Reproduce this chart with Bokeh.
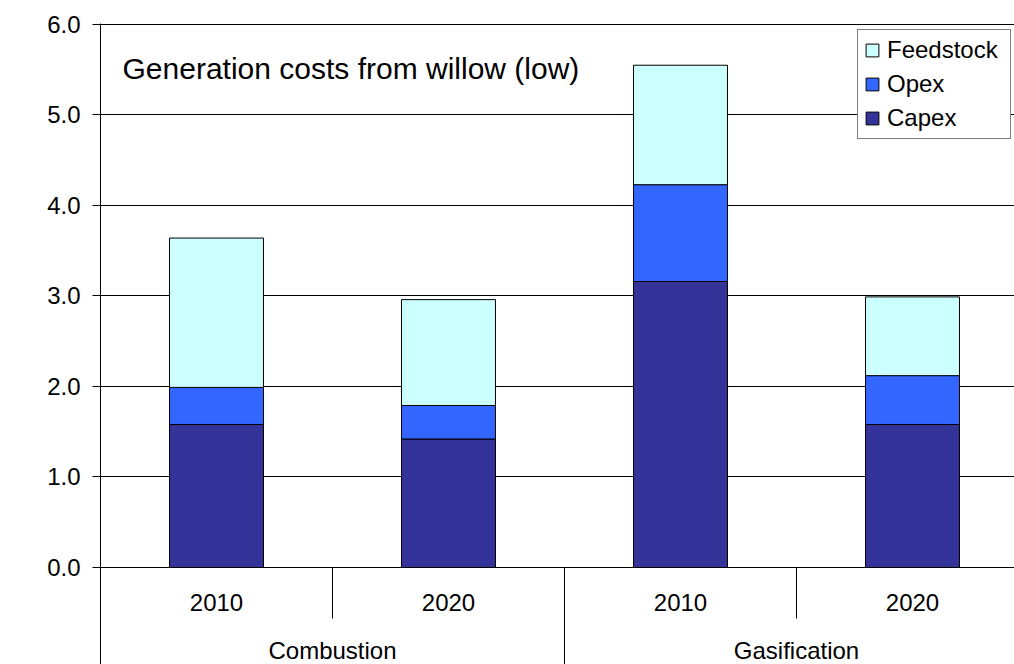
import numpy as np
from math import pi
from bokeh.plotting import figure
from bokeh.models import (Range1d, FixedTicker, Legend, LegendItem, Label,
                          LabelSet, ColumnDataSource, NumeralTickFormatter)
from bokeh.core.properties import value
from bokeh.embed import file_html
from bokeh.resources import INLINE

# ---- data ----
groups = ["Combustion", "Combustion", "Gasification", "Gasification"]
years = ["2010", "2020", "2010", "2020"]
capex = [1.58, 1.42, 3.16, 1.58]
opex = [0.41, 0.37, 1.07, 0.54]
feedstock = [1.65, 1.17, 1.32, 0.87]
series = ["Capex", "Opex", "Feedstock"]
colors = ["#333399", "#3366FF", "#CCFFFF"]
y_ticks = [0.0, 1.0, 2.0, 3.0, 4.0, 5.0, 6.0]
title_text = "Generation costs from willow (low)"
y_label = "p/kWh"

FONT = "Liberation Sans"

n = len(years)
x = np.arange(n) + 0.5
Y0 = -1.072

p = figure(width=1014, height=664, output_backend="svg", toolbar_location=None,
           x_range=Range1d(0, 914 / 232), y_range=Range1d(Y0, 6.011),
           min_border_left=100, min_border_right=0, min_border_top=23,
           min_border_bottom=0)
p.outline_line_color = None
p.background_fill_color = "white"
p.border_fill_color = "white"

p.xaxis.visible = False
p.xgrid.visible = False

p.yaxis.ticker = FixedTicker(ticks=y_ticks)
p.yaxis.formatter = NumeralTickFormatter(format="0.0")
p.yaxis.axis_line_color = "black"
p.yaxis.major_tick_line_color = "black"
p.yaxis.major_tick_out = 8
p.yaxis.major_tick_in = 0
p.yaxis.minor_tick_line_color = None
p.yaxis.major_label_text_font = FONT
p.yaxis.major_label_text_font_size = "24px"
p.yaxis.major_label_text_color = "black"
p.yaxis.major_label_standoff = 12
p.ygrid.ticker = FixedTicker(ticks=y_ticks)
p.ygrid.grid_line_color = "black"
p.ygrid.grid_line_width = 1

src = ColumnDataSource(dict(x=x, Capex=capex, Opex=opex, Feedstock=feedstock))
rs = p.vbar_stack(series, x="x", width=0.405, source=src,
                  fill_color=colors, line_color="black", line_width=1)

# separators of the two-level category axis
sx, sy1 = [], []
for i in range(1, n):
    sx.append(float(i))
    sy1.append(Y0 if groups[i] != groups[i - 1] else -0.564)
p.segment(x0=sx, y0=[0.0] * len(sx), x1=sx, y1=sy1, line_color="black", line_width=1)

# year labels
ysrc = ColumnDataSource(dict(x=x, y=[-0.387] * n, text=years))
p.add_layout(LabelSet(x="x", y="y", text="text", source=ysrc,
                      text_align="center", text_baseline="middle",
                      text_font=value(FONT), text_font_size=value("24px"),
                      text_color="black"))

# group labels
ug = list(dict.fromkeys(groups))
gx = [float(np.mean([x[i] for i in range(n) if groups[i] == g])) for g in ug]
gsrc = ColumnDataSource(dict(x=gx, y=[-0.915] * len(ug), text=ug))
p.add_layout(LabelSet(x="x", y="y", text="text", source=gsrc,
                      text_align="center", text_baseline="middle",
                      text_font=value(FONT), text_font_size=value("24px"),
                      text_color="black"))

# title inside plot
p.add_layout(Label(x=0.095, y=5.515, text=title_text, text_font=FONT,
                   text_font_size="30px", text_baseline="middle",
                   text_color="black"))

# y axis label
p.add_layout(Label(x=-0.328, y=2.995, text=y_label, angle=pi / 2,
                   text_font=FONT, text_font_size="24px",
                   text_align="center", text_baseline="middle",
                   text_color="black"))

legend = Legend(items=[LegendItem(label=s, renderers=[r]) for s, r in
                       zip(series[::-1], rs[::-1])],
                location=(757, 525))
legend.border_line_color = "black"
legend.border_line_width = 1
legend.background_fill_color = "white"
legend.background_fill_alpha = 1
legend.label_text_font = FONT
legend.label_text_font_size = "24px"
legend.label_text_color = "black"
legend.glyph_width = 16
legend.glyph_height = 16
legend.label_standoff = 7
legend.label_width = 117
legend.padding = 6
legend.spacing = 6
legend.label_height = 26
legend.margin = 0
p.add_layout(legend)

open("out.html", "w").write(file_html(p, INLINE))
